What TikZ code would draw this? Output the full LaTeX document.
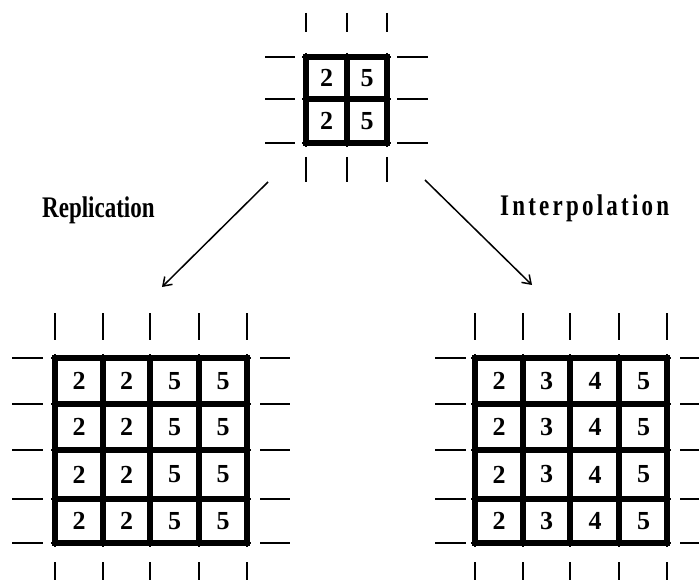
\documentclass[tikz,border=0pt]{standalone}
\usepackage{fontspec}
\setmainfont{Liberation Serif}
\usetikzlibrary{arrows.meta}
\tikzset{
	gridline/.style={line width=5.5pt, line cap=rect},
	tick/.style={line width=2.5pt},
	val/.style={font=\fontsize{26}{26}\selectfont\bfseries, inner sep=0pt},
	lab/.style={font=\fontsize{23}{23}\selectfont\bfseries, inner sep=0pt, anchor=base west},
	map/.style={line width=1.5pt, -{Straight Barb[length=8pt,width=11pt]}},
}
\begin{document}
\begin{tikzpicture}[x=1pt,y=-1pt]
	\useasboundingbox (0,0) rectangle (699,580);
	% small grid on top
	\foreach \x in {306,347,387} {
		\draw[tick] (\x,13) -- (\x,32);
		\draw[tick] (\x,53) -- (\x,147);
		\draw[tick] (\x,157) -- (\x,182);
		\draw[gridline] (\x,57) -- (\x,143);
	}
	\foreach \y in {57,99,143} {
		\draw[tick] (265,\y) -- (295,\y);
		\draw[tick] (302,\y) -- (391,\y);
		\draw[tick] (397,\y) -- (428,\y);
		\draw[gridline] (306,\y) -- (387,\y);
	}
	\foreach \y/\r in {78/1,121/2} {
		\node[val] (s\r a) at (326.5,\y) {2};
		\node[val] (s\r b) at (367,\y) {5};
	}
	% big grids below
	\foreach \xa/\xb/\xl/\xr in {55/247/12/290,475/667/435/699} {
		\foreach \x in {0,48,95,144,192} {
			\draw[tick] (\xa+\x,313) -- (\xa+\x,340);
			\draw[tick] (\xa+\x,354) -- (\xa+\x,547);
			\draw[tick] (\xa+\x,562) -- (\xa+\x,580);
			\draw[gridline] (\xa+\x,358) -- (\xa+\x,543);
		}
		\foreach \y in {358,404,450,499,543} {
			\draw[tick] (\xl,\y) -- (\xl+31,\y);
			\draw[tick] (\xa-4,\y) -- (\xb+4,\y);
			\draw[tick] (\xb+13,\y) -- (\xr,\y);
			\draw[gridline] (\xa,\y) -- (\xb,\y);
		}
	}
	\foreach \y/\r in {381/1,427/2,474.5/3,521/4} {
		\node[val] (r\r a) at (79,\y) {2};
		\node[val] (r\r b) at (126.5,\y) {2};
		\node[val] (r\r c) at (174.5,\y) {5};
		\node[val] (r\r d) at (223,\y) {5};
		\node[val] (i\r a) at (499,\y) {2};
		\node[val] (i\r b) at (546.5,\y) {3};
		\node[val] (i\r c) at (595,\y) {4};
		\node[val] (i\r d) at (643.5,\y) {5};
	}
	% arrows and labels
	\coordinate (repfrom) at (268,182);
	\coordinate (repto) at (162,287);
	\coordinate (intfrom) at (425,180);
	\coordinate (intto) at (532,285);
	\draw[map] (repfrom) -- (repto);
	\draw[map] (intfrom) -- (intto);
	\node[lab] (replab) at (42,218) {\scalebox{1}[1.3]{Replication}};
	\node[lab] (intlab) at (500,216) {\scalebox{1}[1.3]{\addfontfeature{LetterSpace=14}Interpolation}};
\end{tikzpicture}
\end{document}
